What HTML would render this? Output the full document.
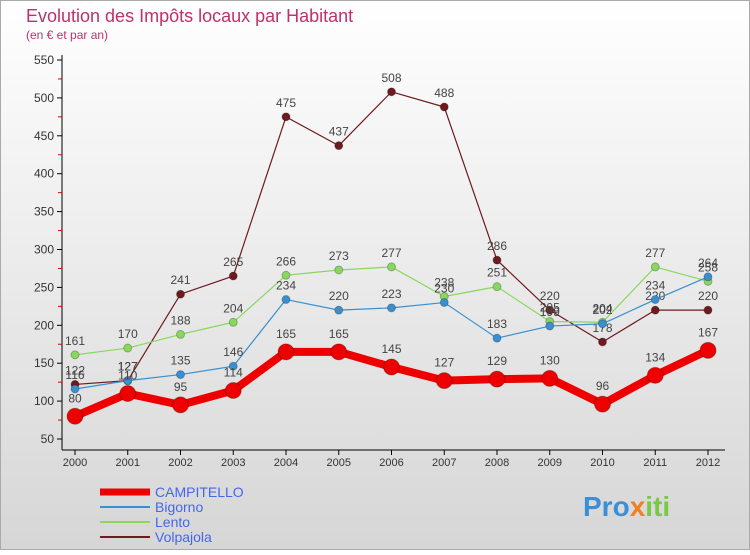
<!DOCTYPE html>
<html><head><meta charset="utf-8"><style>
body{margin:0;width:750px;height:550px;overflow:hidden;font-family:"Liberation Sans",sans-serif}
</style></head><body>
<svg width="750" height="550" xmlns="http://www.w3.org/2000/svg">
<defs><linearGradient id="bg" x1="0" y1="0" x2="0" y2="1"><stop offset="0" stop-color="#ffffff"/><stop offset="1" stop-color="#d6d6d6"/></linearGradient></defs>
<rect x="0.5" y="0.5" width="749" height="549" fill="url(#bg)" stroke="#aaa"/>
<text x="26" y="22" font-size="18" fill="#c0306a">Evolution des Impôts locaux par Habitant</text>
<text x="26" y="39" font-size="12" fill="#c0306a">(en € et par an)</text>
<g id="axes"></g>
<g id="series"></g>
<g id="legend"></g>
<text x="583" y="516" font-size="28" font-weight="bold" fill="#3a8fd8">Pro<tspan fill="#f08020">x</tspan><tspan fill="#7ac943">iti</tspan></text>
</svg>
<script>
const years=["2000","2001","2002","2003","2004","2005","2006","2007","2008","2009","2010","2011","2012"];
const yTicks=[50,100,150,200,250,300,350,400,450,500,550];
const campitello=[80,110,95,114,165,165,145,127,129,130,96,134,167];
const bigorno=[116,127,135,146,234,220,223,230,183,199,202,234,264];
const lento=[161,170,188,204,266,273,277,238,251,205,204,277,258];
const volpajola=[122,127,241,265,475,437,508,488,286,220,178,220,220];
const NS="http://www.w3.org/2000/svg";
function X(i){return 75+i*52.75;}
function Y(v){return 439-(v-50)*0.758;}
function mk(t,a,p){const e=document.createElementNS(NS,t);for(const k in a)e.setAttribute(k,a[k]);p.appendChild(e);return e;}
const ax=document.getElementById('axes');
let l=mk('line',{x1:62,y1:55,x2:62,y2:450,stroke:'#000'},ax);


l=mk('line',{x1:62,y1:450,x2:725,y2:450,stroke:'#000'},ax);


yTicks.forEach((v,i)=>{
  mk('line',{x1:57,x2:62,y1:Y(v),y2:Y(v),stroke:'#000'},ax);
  if(i<yTicks.length-1)mk('line',{x1:58,x2:62,y1:Y(v+25),y2:Y(v+25),stroke:'#d00'},ax);
  const t=mk('text',{x:54,y:Y(v)+4,'font-size':12,'text-anchor':'end',fill:'#333'},ax);
  t.textContent=v;
  
  
});
years.forEach((y,i)=>{
  mk('line',{x1:X(i),x2:X(i),y1:450,y2:455,stroke:'#000'},ax);
  const t=mk('text',{x:X(i),y:466,'font-size':11,'text-anchor':'middle',fill:'#333'},ax);
  t.textContent=y;
  
  
});
const sg=document.getElementById('series');
function draw(data,color,w,r,name){
  const g=mk('g',{},sg);
  
  
  const p=mk('polyline',{points:data.map((v,i)=>X(i)+','+Y(v)).join(' '),fill:'none',stroke:color,'stroke-width':w,'stroke-linejoin':'round'},g);
  
  
  data.forEach((v,i)=>{
    const c=mk('circle',{cx:X(i),cy:Y(v),r:r,fill:color,stroke:'rgba(0,0,0,0.25)'},g);
    
    
    const t=mk('text',{x:X(i),y:Y(v)-(r+6),'font-size':12,'text-anchor':'middle',fill:'#444'},g);
    t.textContent=v;
    
    
  });
}
draw(volpajola,'#6e1a1f',1.2,4,'volpajola');
draw(lento,'#88d860',1.2,4,'lento');
draw(bigorno,'#3a8fd0',1.2,4,'bigorno');
draw(campitello,'#ee0000',8,8,'campitello');
const lg=document.getElementById('legend');
[['CAMPITELLO','#ee0000',7],['Bigorno','#3a8fd0',2],['Lento','#88d860',2],['Volpajola','#6e1a1f',2]].forEach((d,i)=>{
  const y=492+i*15;
  const g=mk('g',{},lg);
  
  
  mk('line',{x1:100,x2:150,y1:y,y2:y,stroke:d[1],'stroke-width':d[2]},g);
  const t=mk('text',{x:155,y:y+5,'font-size':14,fill:'#4466ee'},g);
  t.textContent=d[0];
});
</script>
</body></html>
